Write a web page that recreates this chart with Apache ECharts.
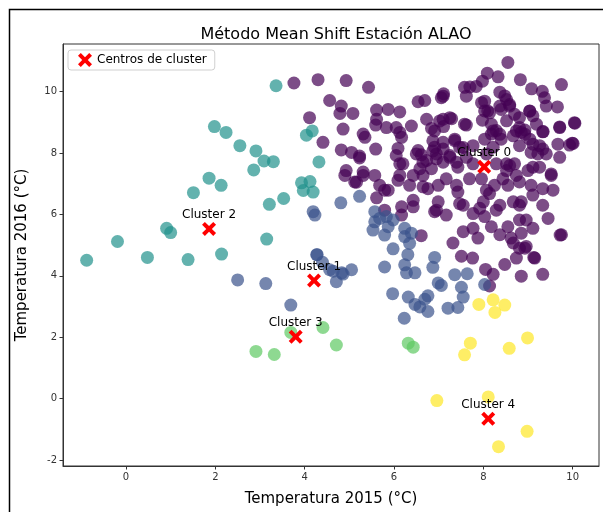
<!DOCTYPE html>
<html>
<head>
<meta charset="utf-8">
<script src="https://cdn.jsdelivr.net/npm/echarts@6/dist/echarts.min.js"></script>
<style>
html, body { margin: 0; padding: 0; background: #fff; }
#chart { width: 603px; height: 512px; }
</style>
</head>
<body>
<div id="chart"></div>
<script>
// puntos por cluster (Temperatura 2015, Temperatura 2016)
var cluster0 = [
  [3.76,10.28],[4.30,10.39],[4.93,10.36],[5.43,10.14],[8.55,10.95],[8.09,10.60],[7.98,10.34],[8.33,10.48],[7.84,10.17],[7.58,10.14],[7.70,10.15],[8.83,10.39],[9.08,10.09],[9.32,10.01],[9.37,9.80],[9.75,10.23],
  [4.56,9.71],[4.82,9.53],[4.79,9.29],[5.08,9.29],[5.61,9.40],[5.87,9.42],[6.13,9.34],[6.54,9.67],[6.69,9.71],[7.06,9.80],[7.11,9.93],[7.62,9.85],[8.03,9.69],[8.37,9.98],[8.52,9.74],[8.48,9.86],[8.03,9.37],[8.10,9.37],[8.37,9.53],[8.59,9.53],[8.70,9.26],[9.04,9.37],[9.11,9.21],[9.41,9.53],[9.66,9.50],
  [4.11,9.15],[5.61,9.10],[5.83,8.83],[6.05,8.83],[6.17,8.51],[6.39,8.88],[6.73,9.10],[6.84,8.80],[7.10,9.10],[7.29,9.12],[7.11,8.86],[7.62,8.91],[7.98,9.07],[8.18,8.94],[8.18,8.62],[8.29,8.73],[8.52,9.05],[8.81,8.83],[8.85,8.67],[8.93,8.75],[9.19,8.94],[9.33,8.69],[9.71,8.83],[10.05,8.97],
  [4.86,8.78],[5.31,8.62],[5.35,8.51],[4.41,8.35],[4.82,8.10],[5.05,8.02],[5.23,7.90],[5.59,8.13],[6.09,8.15],[6.05,7.92],[6.13,7.65],[6.54,8.08],[6.61,7.94],[6.73,7.76],[6.87,8.40],[6.91,8.19],[7.10,8.13],[7.36,8.45],[7.47,8.19],[7.25,7.92],[7.40,7.70],[7.10,7.70],[6.95,7.81],[6.84,7.49],[6.58,7.49],[6.65,7.27],[6.43,7.27],[7.62,7.86],[7.77,8.24],[8.03,8.45],[8.22,8.19],[8.07,7.97],[8.40,8.45],[8.67,8.56],[8.81,8.24],[9.04,8.45],[9.07,8.02],[9.26,8.24],[9.22,7.97],[9.33,8.13],[9.71,7.86],[9.99,8.32],[9.93,8.26],
  [8.52,7.65],[8.70,7.65],[8.52,7.43],[9.00,7.43],[9.26,7.54],[9.52,7.27],[8.44,7.16],[8.74,7.27],
  [4.93,7.43],[4.90,7.27],[5.12,7.06],[5.31,7.27],[5.57,7.27],[5.68,6.95],[5.79,6.79],[5.87,6.79],[5.61,6.54],[6.13,7.27],[6.09,7.11],[6.35,6.95],[6.65,6.90],[6.76,6.84],[6.99,6.95],[7.17,7.16],[7.40,6.95],[7.43,6.73],[7.69,7.16],[7.96,7.16],[8.07,6.79],[8.14,6.68],[8.25,6.95],[8.55,6.95],[8.81,7.06],[9.07,6.95],[9.33,6.84],[9.56,6.79],[9.11,6.63],[8.85,6.41],[8.81,6.30],[8.67,6.41],[9.33,6.30],[9.45,5.87],[8.37,6.30],[8.00,6.41],[7.92,6.20],[8.29,6.14],[8.03,5.93],[7.77,6.03],[7.55,6.30],[7.47,6.35],[7.17,5.98],[6.91,6.09],[6.99,6.41],[6.43,6.46],[6.43,6.25],[6.17,6.25],
  [6.61,5.31],[7.55,5.44],[7.77,5.55],[7.88,5.23],[8.18,5.60],[8.37,5.34],[8.55,5.60],[8.62,5.23],[8.81,5.82],[8.96,5.82],[9.11,5.55],[8.85,5.39],[8.67,5.07],[8.81,4.90],[8.96,4.96],[9.15,4.58],[8.74,4.58],[8.48,4.37],[8.22,4.05],[8.05,4.21],[8.85,3.99],[9.33,4.05],[9.75,5.34],[7.32,5.07],[7.51,4.64],[7.76,4.58],[8.14,3.67],[8.93,4.90],[9.13,4.60],
  [10.04,8.99],[9.71,8.85],[10.01,8.31],[9.67,8.29],[9.34,8.70],[9.41,7.97],[9.52,7.32],[9.11,7.54],[7.10,9.85],[7.02,9.04],[7.25,9.15],[7.58,8.94],[6.91,8.72],[7.10,8.35],[7.36,8.40],[7.55,8.18],[6.95,7.97],[7.25,7.86],[7.43,7.54],[7.77,7.65],[8.29,7.65],[8.59,7.59],[7.96,9.64],[8.14,9.31],[8.40,9.42],[8.59,9.58],[8.81,9.15],[9.04,9.36],[8.22,8.72],[8.37,8.61],[8.74,8.72],[8.93,8.61],[9.11,8.29],
  [5.59,8.91],[6.13,8.67],[5.23,7.84],[6.50,7.97],[6.87,8.07],[6.20,7.65],[6.65,7.70],[5.31,7.38],[5.16,7.05],[6.17,5.98],[6.95,6.14],[5.79,6.14],[9.72,5.33]
];
var cluster1 = [
  [2.50,3.87],[3.13,3.75],[3.69,3.05],[4.27,4.69],[4.81,6.38],[5.23,6.59],[4.19,6.09],[4.23,5.98],[5.57,6.09],[5.68,5.87],[5.83,5.93],[5.98,5.82],[5.57,5.76],[5.53,5.49],[5.79,5.33],[5.87,5.60],[6.24,5.55],[6.24,5.28],[6.39,5.39],[6.35,5.06],[5.98,4.88],[6.31,4.69],[6.24,4.36],[6.28,4.10],[6.47,4.10],[5.79,4.29],[6.91,4.60],[6.87,4.28],[6.99,3.77],
  [4.28,4.69],[4.40,4.44],[4.56,4.20],[4.83,4.10],[5.05,4.20],[4.71,3.81],[5.97,3.42],[6.32,3.31],[6.47,3.07],[6.58,2.99],[6.69,3.24],[6.76,3.35],[6.76,2.84],[6.23,2.62],[7.06,3.69],[7.36,4.04],[7.64,4.07],[7.51,3.63],[7.55,3.31],[7.21,2.95],[7.43,2.97],[8.03,3.72],[4.64,4.15],[4.86,4.06]
];
var cluster2 = [
  [3.36,10.19],[1.98,8.86],[2.24,8.67],[2.55,8.24],[2.91,8.07],[2.86,7.45],[3.09,7.74],[3.30,7.72],[1.86,7.18],[2.13,6.95],[1.51,6.71],[3.53,6.52],[3.21,6.33],[3.93,7.03],[4.12,7.07],[3.97,6.78],[4.19,6.73],[4.04,8.58],[4.17,8.72],[4.32,7.71],
  [0.91,5.55],[1.00,5.41],[-0.19,5.12],[-0.88,4.51],[0.48,4.60],[1.39,4.53],[2.14,4.71],[3.15,5.20]
];
var cluster3 = [[2.91,1.54],[3.32,1.44],[3.69,2.16],[4.41,2.32],[4.71,1.75],[6.32,1.81],[6.43,1.68]];
var cluster4 = [[7.90,3.07],[8.22,3.22],[8.48,3.05],[8.26,2.81],[7.71,1.81],[7.58,1.43],[8.58,1.64],[8.99,1.98],[6.96,-0.06],[8.11,0.06],[8.98,-1.06],[8.34,-1.56]];
var centros = [[8.02,7.55],[4.21,3.85],[1.86,5.53],[3.80,2.02],[8.11,-0.65]];
var colores = ['#440154', '#3b528b', '#21918c', '#5ec962', '#fde725'];
var xTicks = [0, 2, 4, 6, 8, 10];
var yTicks = [-2, 0, 2, 4, 6, 8, 10];

var xSymbol = 'path://M0,2 L2,0 L5,3 L8,0 L10,2 L7,5 L10,8 L8,10 L5,7 L2,10 L0,8 L3,5 Z';
var fuente = 'DejaVu Sans';

var chart = echarts.init(document.getElementById('chart'));
var grupos = [cluster0, cluster1, cluster2, cluster3, cluster4];
var series = [];
for (var i = 0; i < grupos.length; i++) {
  series.push({
    name: 'cluster' + i,
    type: 'scatter',
    data: grupos[i],
    symbolSize: 13,
    itemStyle: { color: colores[i], opacity: 0.7 },
    z: 2
  });
}
series.push({
  name: 'Centros de cluster',
  type: 'scatter',
  data: centros,
  symbol: xSymbol,
  symbolSize: 14,
  itemStyle: { color: '#ff0000', opacity: 1 },
  label: {
    show: true,
    position: 'top',
    distance: 1,
    color: '#000',
    fontSize: 12,
    fontFamily: fuente,
    formatter: function (p) { return 'Cluster ' + p.dataIndex; }
  },
  z: 5
});

var option = {
  animation: false,
  backgroundColor: '#fff',
  title: {
    text: 'Método Mean Shift Estación ALAO',
    left: 331,
    textAlign: 'center',
    top: 22,
    textStyle: { fontSize: 16, fontWeight: 'normal', color: '#000', fontFamily: fuente }
  },
  legend: {
    data: ['Centros de cluster'],
    left: 68,
    top: 50,
    padding: [3, 8, 3, 10],
    itemWidth: 14,
    itemHeight: 14,
    itemGap: 10,
    icon: xSymbol,
    backgroundColor: 'rgba(255,255,255,0.8)',
    borderColor: '#d0d0d0',
    borderWidth: 1,
    borderRadius: 3,
    textStyle: { fontSize: 12, color: '#000', fontFamily: fuente }
  },
  grid: {
    left: 63, right: 4, top: 44, bottom: 42,
    show: true,
    borderColor: '#333',
    borderWidth: 1
  },
  xAxis: {
    type: 'value',
    min: -1.41,
    max: 10.59,
    name: 'Temperatura 2015 (°C)',
    nameLocation: 'middle',
    nameGap: 26,
    nameTextStyle: { fontSize: 15, color: '#000', fontFamily: fuente },
    axisLine: { show: true, onZero: false, lineStyle: { color: '#333' } },
    axisTick: { show: true, length: 3.5, customValues: xTicks, lineStyle: { color: '#333' } },
    axisLabel: { customValues: xTicks, fontSize: 10, color: '#333', margin: 6, fontFamily: fuente },
    splitLine: { show: false }
  },
  yAxis: {
    type: 'value',
    min: -2.19,
    max: 11.55,
    name: 'Temperatura 2016 (°C)',
    nameLocation: 'middle',
    nameGap: 33,
    nameTextStyle: { fontSize: 15, color: '#000', fontFamily: fuente },
    axisLine: { show: true, onZero: false, lineStyle: { color: '#333' } },
    axisTick: { show: true, length: 3.5, customValues: yTicks, lineStyle: { color: '#333' } },
    axisLabel: { customValues: yTicks, fontSize: 10, color: '#333', margin: 6, fontFamily: fuente },
    splitLine: { show: false }
  },
  graphic: [{
    type: 'rect',
    shape: { x: 9.5, y: 9.5, width: 700, height: 600 },
    style: { fill: 'none', stroke: '#000', lineWidth: 1.5 },
    silent: true
  }],
  series: series
};
chart.setOption(option);
</script>
</body>
</html>
